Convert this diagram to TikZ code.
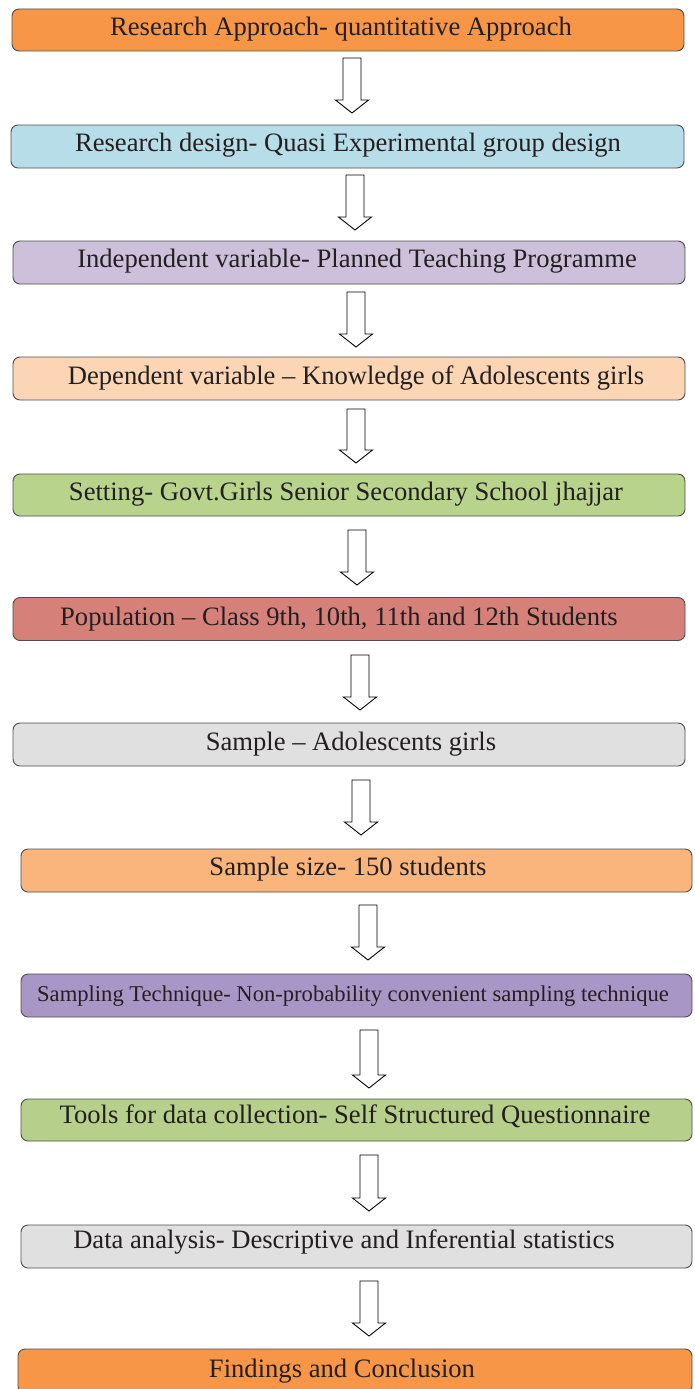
\documentclass[tikz,border=0pt]{standalone}
\usepackage{fontspec}
\setmainfont{Liberation Serif}
\definecolor{c1}{HTML}{F79646}
\definecolor{c2}{HTML}{B7DEE8}
\definecolor{c3}{HTML}{CCC0DA}
\definecolor{c4}{HTML}{FCD5B5}
\definecolor{c5}{HTML}{B8D48C}
\definecolor{c6}{HTML}{D6807A}
\definecolor{c7}{HTML}{E0E0E0}
\definecolor{c8}{HTML}{F9B57B}
\definecolor{c9}{HTML}{A897C6}
\definecolor{c10}{HTML}{B6CF8A}
\definecolor{c12}{HTML}{F79646}
\definecolor{txt}{HTML}{231F20}
\definecolor{edge}{HTML}{4D4D4D}
\tikzset{
  box/.style={draw=edge, line width=0.9pt, rounded corners=7pt, inner sep=0pt},
  lbl/.style={text=txt, inner sep=0pt, anchor=base, font=\fontsize{26.6}{30}\selectfont},
  arr/.style={draw=black, line width=0.9pt, fill=white, line join=miter}
}
\newcommand\barrow[3]{% centre x, top y, tip y
  \draw[arr] ({#1-9},#2) -- ({#1+9},#2) -- ({#1+9},{#3-13}) -- ({#1+16.5},{#3-13}) -- (#1,#3) -- ({#1-16.5},{#3-13}) -- ({#1-9},{#3-13}) -- cycle;
}
\begin{document}
\begin{tikzpicture}[x=1pt,y=-1pt]
\useasboundingbox (0,0) rectangle (694,1389);
\node[box, fill=c1, minimum width=672, minimum height=42] (b1) at (348,30) {};
\node[box, fill=c2, minimum width=673, minimum height=43] (b2) at (347.5,146.5) {};
\node[box, fill=c3, minimum width=672, minimum height=43] (b3) at (349,262.5) {};
\node[box, fill=c4, minimum width=672, minimum height=43] (b4) at (349,378.5) {};
\node[box, fill=c5, minimum width=672, minimum height=42] (b5) at (349,495) {};
\node[box, fill=c6, minimum width=672, minimum height=43] (b6) at (349,619) {};
\node[box, fill=c7, minimum width=672, minimum height=43] (b7) at (349,744.5) {};
\node[box, fill=c8, minimum width=671, minimum height=43] (b8) at (356.5,870.5) {};
\node[box, fill=c9, minimum width=671, minimum height=43] (b9) at (356.5,995.5) {};
\node[box, fill=c10, minimum width=671, minimum height=42] (b10) at (356.5,1120) {};
\node[box, fill=c7, minimum width=671, minimum height=43] (b11) at (356.5,1246.5) {};
\node[box, fill=c12, minimum width=674, minimum height=44] (b12) at (355,1371) {};

\node[lbl] (t1) at (341,36) {Research Approach- quantitative Approach};
\node[lbl] (t2) at (348,151) {Research design- Quasi Experimental group design};
\node[lbl] (t3) at (357,267) {Independent variable- Planned Teaching Programme};
\node[lbl] (t4) at (356,384) {Dependent variable -- Knowledge of Adolescents girls};
\node[lbl] (t5) at (346,500) {Setting- Govt.Girls Senior Secondary School jhajjar};
\node[lbl] (t6) at (339,625) {Population -- Class 9th, 10th, 11th and 12th Students};
\node[lbl] (t7) at (351,750) {Sample -- Adolescents girls};
\node[lbl] (t8) at (348,875) {Sample size- 150 students};
\node[lbl, font=\fontsize{22.6}{26}\selectfont] (t9) at (353,1001) {Sampling Technique- Non-probability convenient sampling technique};
\node[lbl] (t10) at (355,1123) {Tools for data collection- Self Structured Questionnaire};
\node[lbl] (t11) at (344,1248) {Data analysis- Descriptive and Inferential statistics};
\node[lbl] (t12) at (342,1377) {Findings and Conclusion};

\barrow{352}{58}{113}
\barrow{355}{175}{230}
\barrow{356}{292}{347}
\barrow{356}{409}{463}
\barrow{357}{530}{585}
\barrow{360}{655}{710}
\barrow{361}{780}{835}
\barrow{368}{905}{960}
\barrow{369}{1030}{1088}
\barrow{369}{1155}{1211}
\barrow{369}{1281}{1336}
\end{tikzpicture}
\end{document}
